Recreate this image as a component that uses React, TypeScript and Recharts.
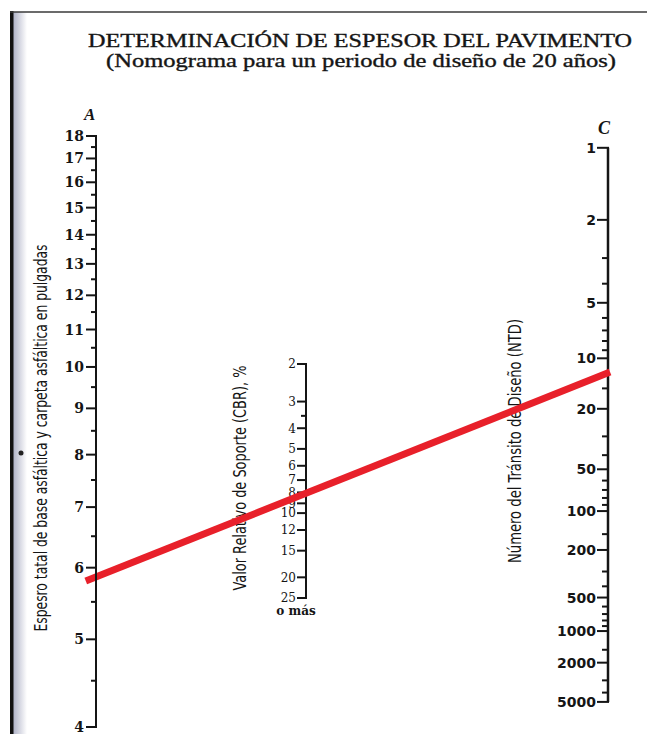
import React from 'react';
import { ComposedChart, XAxis, YAxis, ReferenceLine } from 'recharts';

const INK = '#151515';
const RED = '#e8202a';
const SERIF = '"DejaVu Serif", "Liberation Serif", serif';
const SANS = '"DejaVu Sans", "Liberation Sans", sans-serif';
const TIMES = '"Liberation Serif", "DejaVu Serif", serif';
const NARROW = '"Liberation Sans Narrow", "DejaVu Sans Condensed", "Liberation Sans", sans-serif';

// Escala A: espesor total (pulgadas)
const aTicks = [4, 4.5, 5, 5.5, 6, 6.5, 7, 7.5, 8, 8.5, 9, 9.5, 10, 10.5, 11, 11.5, 12, 12.5, 13, 13.5, 14, 14.5, 15, 15.5, 16, 16.5, 17, 17.5, 18];
const aLabels = [4, 5, 6, 7, 8, 9, 10, 11, 12, 13, 14, 15, 16, 17, 18];
const aDomain = [4, 18];

// Escala B: valor relativo de soporte (CBR, %)
const bTicks = [2, 3, 3.5, 4, 5, 6, 7, 8, 9, 10, 12, 15, 20, 25];
const bLabels = [2, 3, 4, 5, 6, 7, 8, 9, 10, 12, 15, 20, 25];
const bDomain = [2, 25];

// Escala C: numero del transito de diseno (NTD)
const cLabels = [1, 2, 5, 10, 20, 50, 100, 200, 500, 1000, 2000, 5000];
const cMinor = [3, 4, 6, 7, 8, 9, 15, 30, 40, 60, 70, 80, 90, 150, 300, 400, 600, 700, 800, 900, 1500, 3000, 4000];
const cRule = [1, 5000];
const cDomain = [0.9, 9300]; // extremos del marco comun con la escala A

// linea de lectura del ejemplo
const readingA = 5.8;
const readingC = 12;

// la escala NTD no es logaritmica pura: ln(2.2 + log10 N) la reproduce bien
const C_SHIFT = 2.2;
const tC = (n: number) => Math.log(C_SHIFT + Math.log10(n));
const fromTC = (t: number) => Math.pow(10, Math.exp(t) - C_SHIFT);
const cTicks = [...cLabels, ...cMinor].sort((p, q) => p - q).map(tC);

// lleva un valor de C a la escala A (ambas comparten el alto del marco)
const cToA = (n: number) => {
  const f = (tC(n) - tC(cDomain[0])) / (tC(cDomain[1]) - tC(cDomain[0]));
  const lo = Math.log10(aDomain[0]);
  const hi = Math.log10(aDomain[1]);
  return Math.pow(10, hi - f * (hi - lo));
};

const frame = [{ x: 0 }, { x: 1 }];

type TickOpts = {
  labels: number[];
  major: number;
  minor: number;
  font: string;
  size: number;
  weight: number | string;
  gap: number;
  toValue?: (v: number) => number;
  extra?: (v: number, x: number, y: number) => React.ReactNode;
};

const makeTick = (o: TickOpts) => (p: any) => {
  const raw = p.payload.value;
  const v = o.toValue ? o.toValue(raw) : raw;
  const isLabel = o.labels.some((l) => Math.abs(l - v) / l < 0.01);
  const len = isLabel ? o.major : o.minor;
  return (
    <g>
      <line x1={p.x - len} x2={p.x + 1} y1={p.y} y2={p.y} stroke={INK} strokeWidth={2} />
      {isLabel && (
        <text
          x={p.x - len - o.gap}
          y={p.y}
          dy="0.36em"
          textAnchor="end"
          fontFamily={o.font}
          fontSize={o.size}
          fontWeight={o.weight}
          fill={INK}
        >
          {Math.round(v)}
        </text>
      )}
      {o.extra && o.extra(v, p.x, p.y)}
    </g>
  );
};

const aTick = makeTick({ labels: aLabels, major: 10, minor: 5, font: SERIF, size: 14, weight: 'bold', gap: 2 });
const bTick = makeTick({
  labels: bLabels,
  major: 9,
  minor: 5,
  font: SERIF,
  size: 12,
  weight: 'normal',
  gap: 1,
  extra: (v, x, y) =>
    v === 25 ? (
      <text x={x - 10} y={y + 17} textAnchor="middle" fontFamily={SERIF} fontSize={12} fontWeight="bold" fill={INK}>
        o más
      </text>
    ) : null,
});
const cTick = makeTick({ labels: cLabels, major: 11, minor: 6, font: SANS, size: 14, weight: 'bold', gap: 1, toValue: fromTC });

function Page() {
  return (
    <svg width={647} height={734} style={{ position: 'absolute', left: 0, top: 0 }}>
      <defs>
        <linearGradient id="edge" x1="0" y1="0" x2="1" y2="0">
          <stop offset="0%" stopColor="#aeb1c6" />
          <stop offset="100%" stopColor="#ffffff" />
        </linearGradient>
      </defs>
      <rect x={13} y={12} width={14} height={722} fill="url(#edge)" />
      <rect x={10} y={11} width={3.5} height={723} fill="#111" />
      <line x1={10} x2={647} y1={12} y2={12} stroke="#3a3a3a" strokeWidth={1.5} />
      <circle cx={21} cy={453} r={2.5} fill="#222" />

      <text x={360} y={47} textAnchor="middle" textLength={544} lengthAdjust="spacingAndGlyphs"
        fontFamily={TIMES} fontSize={18} fill={INK} stroke={INK} strokeWidth={0.35}>
        DETERMINACIÓN DE ESPESOR DEL PAVIMENTO
      </text>
      <text x={361} y={67} textAnchor="middle" textLength={510} lengthAdjust="spacingAndGlyphs"
        fontFamily={TIMES} fontSize={18} fill={INK} stroke={INK} strokeWidth={0.35}>
        (Nomograma para un periodo de diseño de 20 años)
      </text>

      <text x={84} y={120} fontFamily={TIMES} fontSize={17} fontWeight="bold" fontStyle="italic" fill={INK}>A</text>
      <text x={598} y={134} fontFamily={TIMES} fontSize={18} fontWeight="bold" fontStyle="italic" fill={INK}>C</text>

      <text transform="translate(41,438) rotate(-90)" textAnchor="middle" dominantBaseline="central"
        textLength={387} lengthAdjust="spacingAndGlyphs" fontFamily={NARROW} fontSize={17} fill={INK}>
        Espesro tatal de base asfáltica y carpeta asfáltica en pulgadas
      </text>
      <text transform="translate(240,478) rotate(-90)" textAnchor="middle" dominantBaseline="central"
        textLength={225} lengthAdjust="spacingAndGlyphs" fontFamily={NARROW} fontSize={17} fill={INK}>
        Valor Relativo de Soporte (CBR), %
      </text>
      <text transform="translate(515,441) rotate(-90)" textAnchor="middle" dominantBaseline="central"
        textLength={244} lengthAdjust="spacingAndGlyphs" fontFamily={NARROW} fontSize={17} fill={INK}>
        Número del Tránsito de Diseño (NTD)
      </text>
    </svg>
  );
}

export default function App() {
  return (
    <div style={{ position: 'relative', width: 647, height: 734, background: '#fff', overflow: 'hidden' }}>
      <style>{'body{margin:0}'}</style>
      <Page />

      {/* escala B */}
      <div style={{ position: 'absolute', left: 200, top: 340 }}>
        <ComposedChart width={140} height={290} data={frame} margin={{ top: 24, right: 14, bottom: 32, left: 0 }}>
          <XAxis xAxisId="x" type="number" dataKey="x" domain={[0, 1]} hide allowDataOverflow />
          <YAxis
            yAxisId="b"
            orientation="left"
            reversed
            type="number"
            scale="log"
            domain={bDomain}
            ticks={bTicks}
            interval={0}
            width={106}
            tickSize={0}
            tickMargin={0}
            tickLine={false}
            axisLine={{ stroke: INK, strokeWidth: 2 }}
            tick={bTick}
            allowDataOverflow
          />
        </ComposedChart>
      </div>

      {/* escalas A y C con la linea de lectura */}
      <div style={{ position: 'absolute', left: 0, top: 0 }}>
        <ComposedChart width={647} height={734} data={frame} margin={{ top: 136, right: 39, bottom: 7, left: 0 }}>
          <XAxis xAxisId="x" type="number" dataKey="x" domain={[0, 1]} hide allowDataOverflow />
          <YAxis
            yAxisId="a"
            orientation="left"
            type="number"
            scale="log"
            domain={aDomain}
            ticks={aTicks}
            interval={0}
            width={96}
            tickSize={0}
            tickMargin={0}
            tickLine={false}
            axisLine={{ stroke: INK, strokeWidth: 2 }}
            tick={aTick}
            allowDataOverflow
          />
          <YAxis
            yAxisId="c"
            orientation="right"
            mirror
            reversed
            type="number"
            domain={cDomain.map(tC)}
            ticks={cTicks}
            interval={0}
            tickSize={0}
            tickMargin={0}
            tickLine={false}
            axisLine={false}
            tick={cTick}
            allowDataOverflow
          />
          <ReferenceLine
            xAxisId="x"
            yAxisId="c"
            segment={[{ x: 1, y: tC(cRule[0]) }, { x: 1, y: tC(cRule[1]) }]}
            stroke={INK}
            strokeWidth={2.5}
            ifOverflow="visible"
          />
          <ReferenceLine
            xAxisId="x"
            yAxisId="a"
            segment={[{ x: -0.02, y: readingA }, { x: 1.004, y: cToA(readingC) }]}
            stroke={RED}
            strokeWidth={7}
            ifOverflow="visible"
          />
        </ComposedChart>
      </div>
    </div>
  );
}
